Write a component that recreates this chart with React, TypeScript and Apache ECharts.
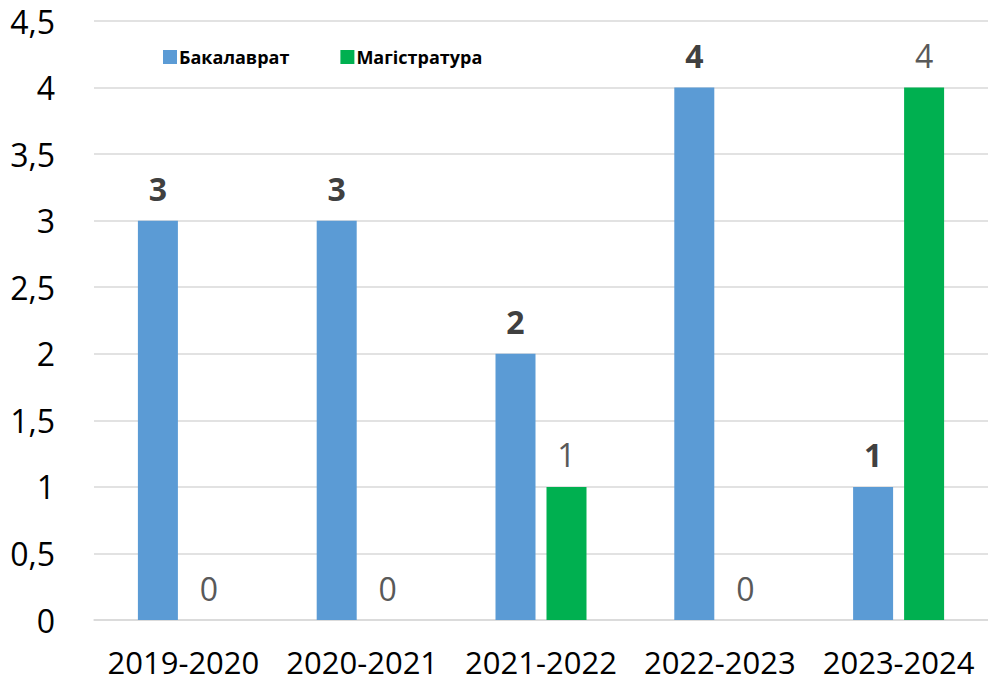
import React, { useEffect, useRef } from "react";
import * as echarts from "echarts";

const categories = ["2019-2020", "2020-2021", "2021-2022", "2022-2023", "2023-2024"];
const bachelor = [3, 3, 2, 4, 1];
const master = [0, 0, 1, 0, 4];
const seriesNames = ["Бакалаврат", "Магістратура"];

const FONT = "'Open Sans', sans-serif";

export default function App() {
  const ref = useRef<HTMLDivElement>(null);
  useEffect(() => {
    if (!ref.current) return;
    const chart = echarts.init(ref.current, undefined, { renderer: "svg" });
    chart.setOption({
      animation: false,
      backgroundColor: "#ffffff",
      textStyle: { fontFamily: FONT },
      legend: {
        left: 158,
        top: 43,
        itemWidth: 14,
        itemHeight: 14,
        itemGap: 51,
        icon: "rect",
        textStyle: { fontFamily: FONT, fontSize: 18, fontWeight: "bold", color: "#000000", padding: [0, 0, 0, -3] },
        data: seriesNames,
      },
      grid: { left: 94, top: 21, width: 900, bottom: 64, containLabel: false },
      xAxis: {
        type: "category",
        data: categories,
        axisLine: { show: true, lineStyle: { color: "#d9d9d9", width: 1.5 } },
        axisTick: { show: false },
        axisLabel: { fontFamily: FONT, fontSize: 31, color: "#000000", margin: 26, interval: 0, hideOverlap: false },
      },
      yAxis: {
        type: "value",
        min: 0,
        max: 4.5,
        interval: 0.5,
        axisLine: { show: false },
        axisTick: { show: false },
        splitLine: { lineStyle: { color: "#d9d9d9", width: 1.5 } },
        axisLabel: {
          fontFamily: FONT,
          fontSize: 32,
          color: "#000000",
          margin: 39,
          formatter: (v: number) => String(v).replace(".", ","),
        },
      },
      series: [
        {
          name: seriesNames[0],
          type: "bar",
          data: bachelor,
          barWidth: 40,
          barGap: "27.5%",
          itemStyle: { color: "#5B9BD5" },
          label: {
            show: true,
            position: "top",
            distance: 16,
            fontFamily: FONT,
            fontSize: 32,
            fontWeight: "bold",
            color: "#404040",
          },
        },
        {
          name: seriesNames[1],
          type: "bar",
          data: master,
          barWidth: 40,
          itemStyle: { color: "#00B050" },
          label: {
            show: true,
            position: "top",
            distance: 16,
            fontFamily: FONT,
            fontSize: 32,
            color: "#595959",
          },
        },
      ],
    });
    return () => chart.dispose();
  }, []);
  return (
    <div
      ref={ref}
      style={{ position: "absolute", left: 0, top: 0, width: 988, height: 684, background: "#fff" }}
    />
  );
}
